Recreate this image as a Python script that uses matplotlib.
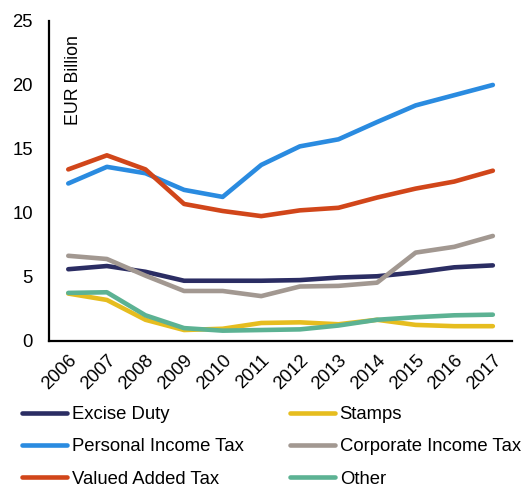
import matplotlib
matplotlib.use("Agg")
import matplotlib.pyplot as plt

plt.rcParams['font.family'] = ['Liberation Sans', 'DejaVu Sans']

years = ["2006", "2007", "2008", "2009", "2010", "2011",
         "2012", "2013", "2014", "2015", "2016", "2017"]

excise_duty = [5.6, 5.85, 5.4, 4.7, 4.7, 4.7, 4.75, 4.95, 5.05, 5.35, 5.75, 5.9]
personal_income_tax = [12.3, 13.6, 13.1, 11.8, 11.25, 13.75, 15.2, 15.75, 17.1, 18.4, 19.2, 20.0]
valued_added_tax = [13.4, 14.5, 13.4, 10.7, 10.15, 9.75, 10.2, 10.4, 11.2, 11.9, 12.45, 13.3]
stamps = [3.7, 3.2, 1.65, 0.85, 0.95, 1.4, 1.45, 1.3, 1.65, 1.25, 1.15, 1.15]
corporate_income_tax = [6.65, 6.4, 5.1, 3.9, 3.9, 3.5, 4.25, 4.3, 4.55, 6.9, 7.35, 8.2]
other = [3.75, 3.8, 2.0, 1.0, 0.8, 0.85, 0.9, 1.2, 1.65, 1.85, 2.0, 2.05]

series = [
    ("Excise Duty", excise_duty, "#2b2d63"),
    ("Personal Income Tax", personal_income_tax, "#2a8be0"),
    ("Valued Added Tax", valued_added_tax, "#d1461a"),
    ("Stamps", stamps, "#e6bd1f"),
    ("Corporate Income Tax", corporate_income_tax, "#a29891"),
    ("Other", other, "#5cb293"),
]

FS = 13.3

fig = plt.figure(figsize=(5.21, 4.87), dpi=100)
ax = fig.add_axes([0.094, 0.300, 0.889, 0.657])

x = list(range(len(years)))
for name, vals, col in series:
    ax.plot(x, vals, color=col, lw=3.3, label=name,
            solid_capstyle="round", solid_joinstyle="round")

ax.set_xlim(-0.5, len(years) - 0.5)
ax.set_ylim(0, 25)
ax.set_yticks([0, 5, 10, 15, 20, 25])
ax.set_xticks(x)
ax.set_xticklabels(years, rotation=45, ha="right", rotation_mode="anchor")
ax.tick_params(axis="both", length=0, labelsize=FS)
ax.tick_params(axis="x", pad=8)
ax.tick_params(axis="y", pad=11.5)
for s in ["top", "right"]:
    ax.spines[s].set_visible(False)
for s in ["left", "bottom"]:
    ax.spines[s].set_linewidth(1.6)
    ax.spines[s].set_color("black")

ax.text(0.054, 0.956, "EUR Billion", transform=ax.transAxes, rotation=90,
        ha="center", va="top", fontsize=12.8)

handles, labels = ax.get_legend_handles_labels()
fig.legend(handles, labels, ncol=2, loc="upper left",
           bbox_to_anchor=(0.042, 0.166), frameon=False, fontsize=FS,
           handlelength=2.45, handletextpad=0.25, columnspacing=2.5,
           labelspacing=0.83, borderaxespad=0, borderpad=0)

fig.savefig("out.png", dpi=100)
